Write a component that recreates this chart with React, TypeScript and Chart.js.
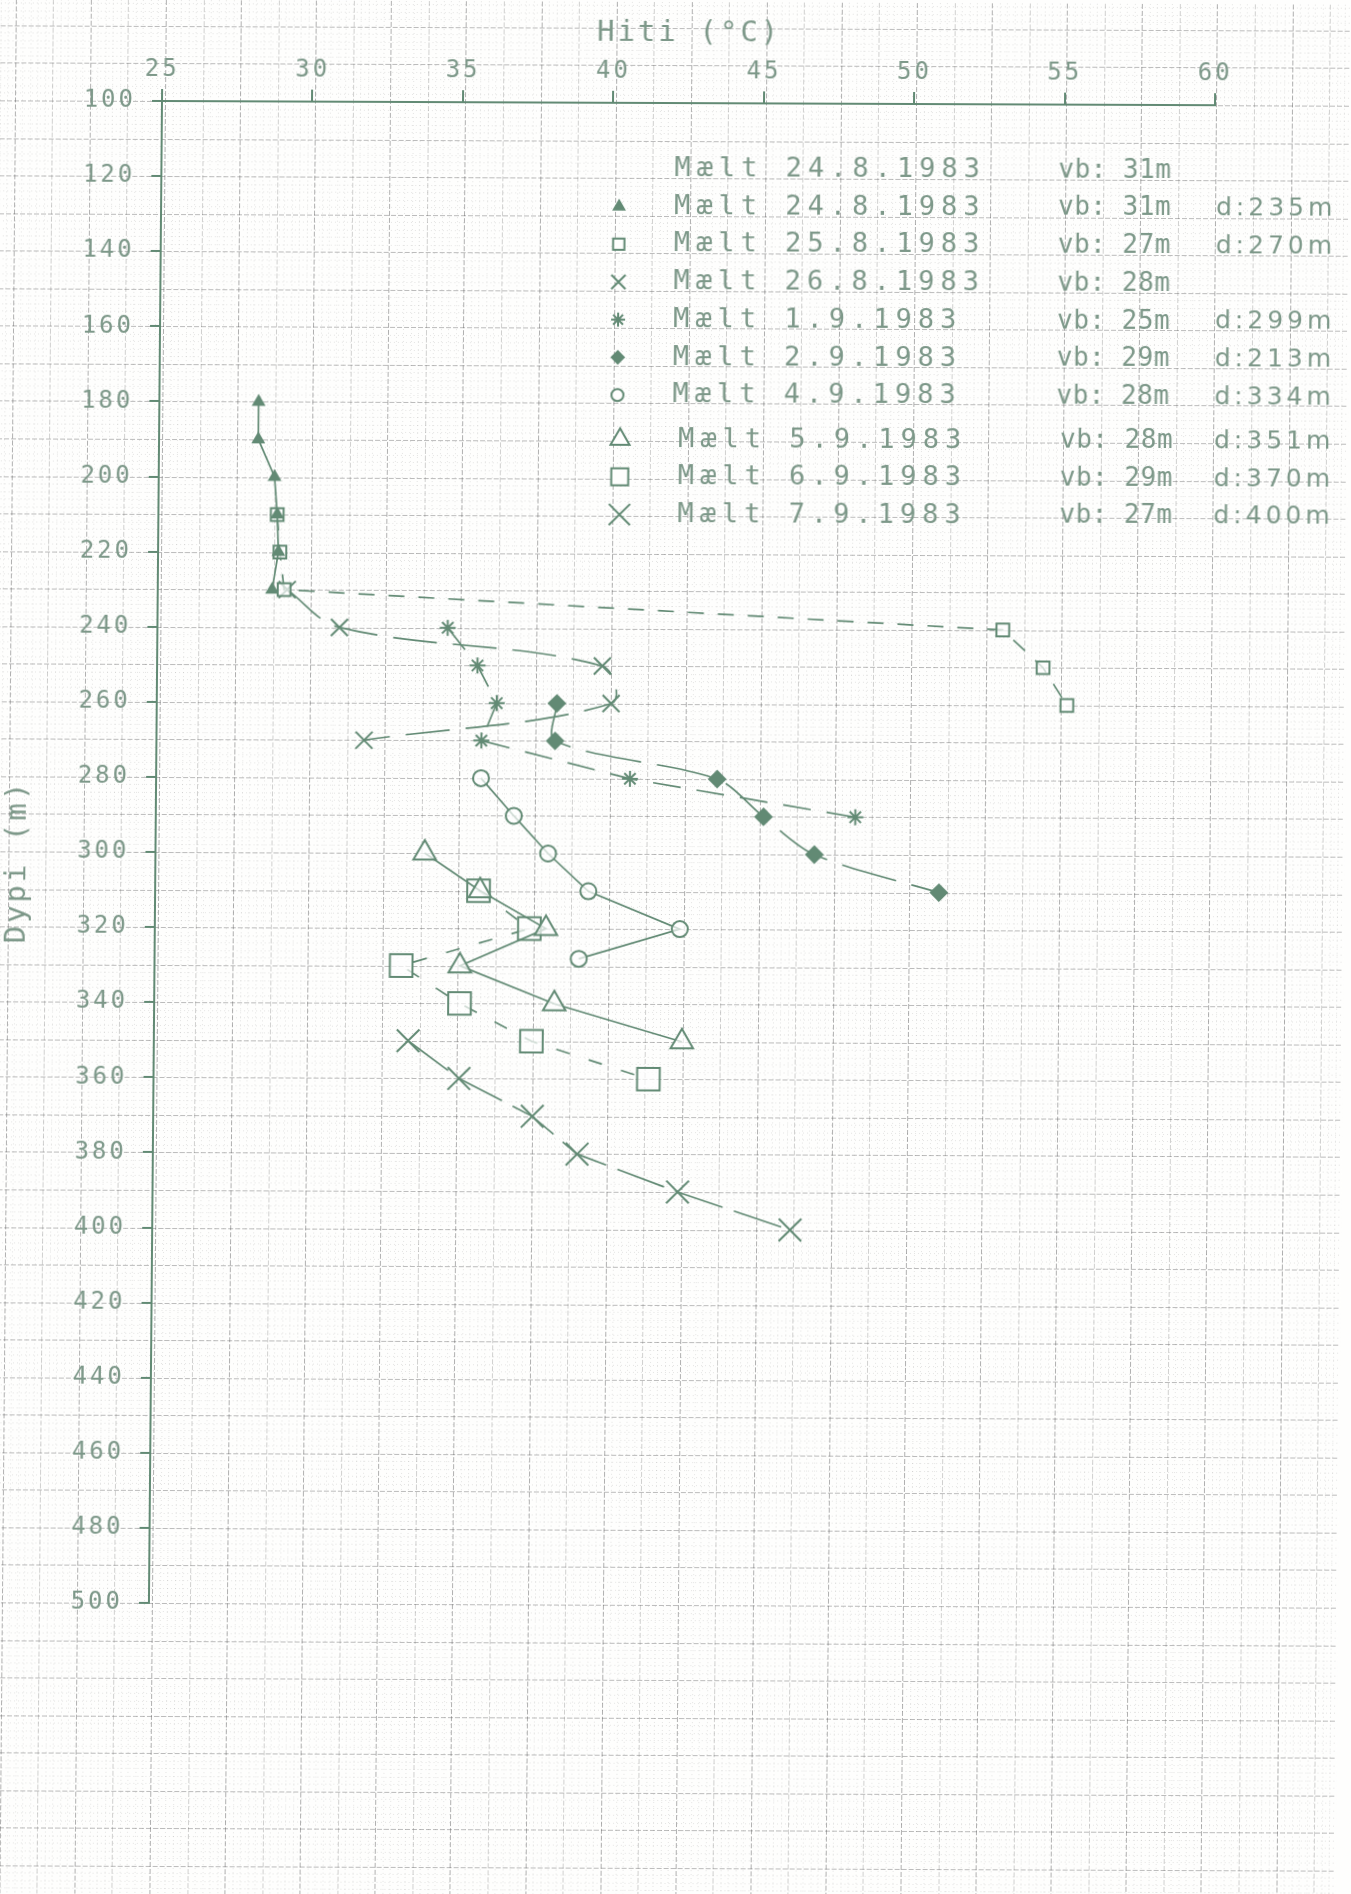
import React, { useEffect, useRef } from 'react';
import { Chart, registerables } from 'chart.js';
import { drawPoint } from 'chart.js/helpers';

Chart.register(...registerables);

// ---------------- data ----------------
const xTickValues = [25, 30, 35, 40, 45, 50, 55, 60];
const yTickValues = [100, 120, 140, 160, 180, 200, 220, 240, 260, 280, 300, 320, 340, 360, 380, 400, 420, 440, 460, 480, 500];

const seriesLabels = [
  'Mælt 24.8.1983', 'Mælt 24.8.1983', 'Mælt 25.8.1983', 'Mælt 26.8.1983', 'Mælt 1.9.1983',
  'Mælt 2.9.1983', 'Mælt 4.9.1983', 'Mælt 5.9.1983', 'Mælt 6.9.1983', 'Mælt 7.9.1983',
];
const vbLabels = ['vb: 31m', 'vb: 31m', 'vb: 27m', 'vb: 28m', 'vb: 25m', 'vb: 29m', 'vb: 28m', 'vb: 28m', 'vb: 29m', 'vb: 27m'];
const dLabels = ['', 'd:235m', 'd:270m', '', 'd:299m', 'd:213m', 'd:334m', 'd:351m', 'd:370m', 'd:400m'];

const depth_24_8_line: number[] = [];
const temp_24_8_line: number[] = [];
const depth_24_8 = [180, 190, 200, 210, 220, 230];
const temp_24_8 = [28.3, 28.3, 28.85, 28.95, 29.0, 28.8];
const depth_25_8 = [210, 220, 230, 240, 250, 260];
const temp_25_8 = [28.95, 29.05, 29.2, 53.1, 54.45, 55.25];
const depth_26_8 = [230, 240, 250, 260, 270];
const temp_26_8 = [29.3, 31.05, 39.8, 40.1, 31.9];
const depth_1_9 = [240, 250, 260, 270, 280, 290];
const temp_1_9 = [34.65, 35.65, 36.3, 35.8, 40.75, 48.25];
const depth_2_9 = [260, 270, 280, 290, 300, 310];
const temp_2_9 = [38.3, 38.25, 43.65, 45.2, 46.9, 51.05];
const depth_4_9 = [280, 290, 300, 310, 320, 328];
const temp_4_9 = [35.8, 36.9, 38.05, 39.4, 42.45, 39.1];
const depth_5_9 = [300, 310, 320, 330, 340, 350];
const temp_5_9 = [33.95, 35.8, 38.0, 35.15, 38.3, 42.55];
const depth_6_9 = [310, 320, 330, 340, 350, 360];
const temp_6_9 = [35.75, 37.45, 33.2, 35.15, 37.55, 41.45];
const depth_7_9 = [350, 360, 370, 380, 390, 400];
const temp_7_9 = [33.45, 35.15, 37.6, 39.1, 42.45, 46.2];

const seriesDepths = [depth_24_8_line, depth_24_8, depth_25_8, depth_26_8, depth_1_9, depth_2_9, depth_4_9, depth_5_9, depth_6_9, depth_7_9];
const seriesTemps = [temp_24_8_line, temp_24_8, temp_25_8, temp_26_8, temp_1_9, temp_2_9, temp_4_9, temp_5_9, temp_6_9, temp_7_9];

// ---------------- styles ----------------
const INK = '#628a74';
const TEXT = '#7d9889';
const PAPER = '#fefefd';
const MONO = '"DejaVu Sans Mono", "Liberation Mono", monospace';
const SANS = '"DejaVu Sans", "Liberation Sans", sans-serif';

type St = { point: any; r: number; lr: number; dash: number[]; fill: boolean; tension: number };
const styles: St[] = [
  { point: false, r: 0, lr: 0, dash: [], fill: false, tension: 0 },
  { point: 'triangle', r: 6, lr: 6, dash: [], fill: true, tension: 0 },
  { point: 'rect', r: 9, lr: 8, dash: [16, 14], fill: false, tension: 0 },
  { point: 'crossRot', r: 12, lr: 10, dash: [44, 16], fill: false, tension: 0.35 },
  { point: 'star', r: 8, lr: 7, dash: [28, 16], fill: false, tension: 0 },
  { point: 'rectRot', r: 8, lr: 6, dash: [56, 16], fill: true, tension: 0.3 },
  { point: 'circle', r: 8, lr: 6, dash: [], fill: false, tension: 0 },
  { point: 'triangle', r: 13, lr: 11, dash: [], fill: false, tension: 0 },
  { point: 'rect', r: 16, lr: 12, dash: [14, 20], fill: false, tension: 0 },
  { point: 'crossRot', r: 16, lr: 15, dash: [50, 12], fill: false, tension: 0 },
];

const paperPlugin = {
  id: 'paper',
  beforeDraw(chart: any) {
    const { ctx, width, height } = chart;
    ctx.save();
    ctx.fillStyle = PAPER;
    ctx.fillRect(0, 0, width, height);
    const step = 37.55;
    const ox = 165;
    const oy = 101;
    const minor = step / 5;
    ctx.lineWidth = 1;
    // minor dotted lines
    ctx.strokeStyle = 'rgba(80,80,80,0.15)';
    ctx.setLineDash([1, 3]);
    ctx.beginPath();
    for (let i = -40; i < 200; i++) {
      if (i % 5 === 0) continue;
      const x = Math.round(ox + i * minor) + 0.5;
      if (x < -2 || x > width + 2) continue;
      ctx.moveTo(x, 0);
      ctx.lineTo(x, height);
    }
    for (let i = -30; i < 280; i++) {
      if (i % 5 === 0) continue;
      const y = Math.round(oy + i * minor) + 0.5;
      if (y < -2 || y > height + 2) continue;
      ctx.moveTo(0, y);
      ctx.lineTo(width, y);
    }
    ctx.stroke();
    // major lines
    ctx.setLineDash([5, 2]);
    for (let k = -10; k < 60; k++) {
      const x = Math.round(ox + k * step) + 0.5;
      if (x < -2 || x > width + 2) continue;
      ctx.strokeStyle = k % 2 === 0 ? 'rgba(70,70,70,0.42)' : 'rgba(90,90,90,0.28)';
      ctx.beginPath();
      ctx.moveTo(x, 0);
      ctx.lineTo(x, height);
      ctx.stroke();
    }
    ctx.strokeStyle = 'rgba(70,70,70,0.36)';
    ctx.beginPath();
    for (let k = -10; k < 60; k++) {
      const y = Math.round(oy + k * step) + 0.5;
      if (y < -2 || y > height + 2) continue;
      ctx.moveTo(0, y);
      ctx.lineTo(width, y);
    }
    ctx.stroke();
    ctx.restore();
    ctx.letterSpacing = '3px';
  },
};

const legendPlugin = {
  id: 'paperLegend',
  afterDraw(chart: any) {
    const ctx = chart.ctx;
    ctx.save();
    ctx.textBaseline = 'middle';
    ctx.textAlign = 'left';
    seriesLabels.forEach((label, i) => {
      const big = i >= 7;
      const y = big ? 437.5 + (i - 7) * 37.6 : 167 + i * 37.7;
      const mx = big ? 623 : 620;
      const tx = big ? 681 : 675;
      const vx = big ? 1063 : 1059;
      const dx = 1217;
      const st = styles[i];
      if (st.point) {
        ctx.save();
        ctx.setLineDash([]);
        ctx.strokeStyle = INK;
        ctx.fillStyle = st.fill ? INK : PAPER;
        ctx.lineWidth = 2;
        drawPoint(ctx, { pointStyle: st.point, radius: st.lr, rotation: 0, borderWidth: 2 }, mx, y);
        ctx.restore();
      }
      ctx.fillStyle = TEXT;
      ctx.font = `27px ${MONO}`;
      ctx.letterSpacing = '6px';
      ctx.fillText(label, tx, y);
      ctx.font = `26px ${MONO}`;
      ctx.letterSpacing = '0.5px';
      ctx.fillText(vbLabels[i], vx, y);
      if (dLabels[i]) {
        ctx.font = `25px ${SANS}`;
        ctx.letterSpacing = '4px';
        ctx.fillText(dLabels[i], dx, y);
      }
    });
    ctx.restore();
  },
};

export default function App() {
  const ref = useRef<HTMLCanvasElement | null>(null);

  useEffect(() => {
    if (!ref.current) return;
    const datasets = seriesLabels.map((label, i) => {
      const st = styles[i];
      return {
        label,
        data: seriesDepths[i].map((d, j) => ({ x: seriesTemps[i][j], y: d })),
        showLine: true,
        borderColor: INK,
        borderWidth: 1.7,
        borderDash: st.dash,
        tension: st.tension,
        pointStyle: st.point,
        pointRadius: st.r,
        pointBorderWidth: 2,
        pointBorderColor: INK,
        pointBackgroundColor: st.fill ? INK : 'rgba(254,254,253,0.7)',
      };
    });

    const chart = new Chart(ref.current, {
      type: 'scatter',
      data: { datasets } as any,
      plugins: [paperPlugin, legendPlugin],
      options: {
        animation: false,
        responsive: false,
        maintainAspectRatio: false,
        devicePixelRatio: 1,
        layout: { padding: { left: 0, top: 0, right: 136, bottom: 291 } },
        plugins: { legend: { display: false }, tooltip: { enabled: false } },
        scales: {
          x: {
            type: 'linear',
            position: 'top',
            min: 25,
            max: 60,
            afterBuildTicks: (s: any) => { s.ticks = xTickValues.map((v) => ({ value: v })); },
            afterFit: (s: any) => { s.height = 101; },
            ticks: { color: TEXT, font: { family: MONO, size: 24 }, padding: 5, maxRotation: 0, autoSkip: false },
            grid: { drawOnChartArea: false, drawTicks: true, tickLength: 12, color: INK, lineWidth: 2 },
            border: { display: true, color: INK, width: 2 },
            title: { display: true, text: 'Hiti (°C)', color: TEXT, font: { family: MONO, size: 29 }, padding: { top: 14, bottom: 0 } },
          },
          y: {
            type: 'linear',
            position: 'left',
            reverse: true,
            min: 100,
            max: 500,
            afterBuildTicks: (s: any) => { s.ticks = yTickValues.map((v) => ({ value: v })); },
            afterFit: (s: any) => { s.width = 162; },
            ticks: { color: TEXT, font: { family: MONO, size: 24 }, padding: 16, autoSkip: false },
            grid: { drawOnChartArea: false, drawTicks: true, tickLength: 10, color: INK, lineWidth: 2 },
            border: { display: true, color: INK, width: 2 },
            title: { display: true, text: 'Dypi (m) ', color: TEXT, font: { family: MONO, size: 29 }, padding: { top: 7, bottom: 0 } },
          },
        },
      } as any,
    });
    return () => chart.destroy();
  }, []);

  return (
    <div style={{ position: 'fixed', left: 0, top: 0, width: 1351, height: 1894, overflow: 'hidden', background: PAPER }}>
      <div
        style={{
          position: 'absolute',
          left: 0,
          top: 0,
          width: 1351,
          height: 1894,
          transform: 'matrix(1, 0.004, -0.0087, 1, 0, 0)',
          transformOrigin: '162px 101px',
        }}
      >
        <canvas ref={ref} width={1351} height={1894} style={{ display: 'block', width: 1351, height: 1894 }} />
      </div>
    </div>
  );
}
